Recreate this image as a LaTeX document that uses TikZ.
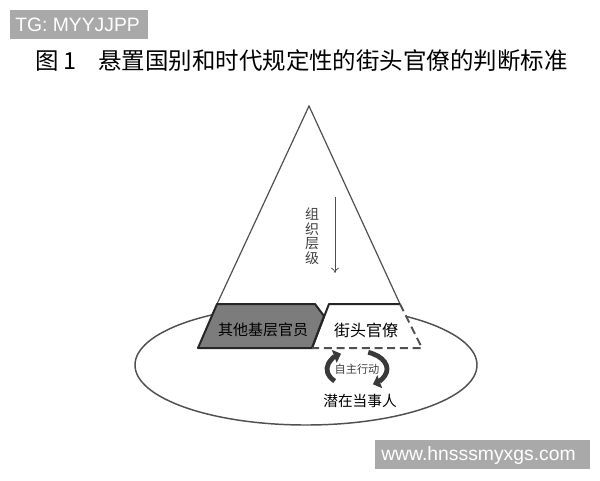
\documentclass[tikz,border=0pt]{standalone}
\usepackage{fontspec}
\setmainfont{Liberation Serif}
\newfontfamily\cjk{Noto Sans CJK SC}
\newfontfamily\wmfont{Liberation Sans}
\usetikzlibrary{arrows.meta}
\definecolor{wmgray}{HTML}{A9A9A9}
\definecolor{basegray}{HTML}{7C7C7C}
\definecolor{linegray}{HTML}{505050}
\tikzset{
  zh/.style={font=\cjk\fontsize{#1}{#1}\selectfont, inner sep=0pt},
  wm/.style={font=\wmfont\fontsize{14.5}{14.5}\selectfont, text=white, inner sep=0pt, anchor=west},
  cyc/.style={line width=3.6pt, draw=gray!45!black, -{Triangle[width=10pt,length=5.5pt]}},
}

\begin{document}
\begin{tikzpicture}[x=0.75pt,y=-0.75pt]
  \useasboundingbox (0,0) rectangle (600,480);
  % Filigranes
  \fill[wmgray] (10,10) rectangle (148,39);
  \node[wm] (tg) at (15,25) {TG: MYYJJPP};
  \fill[wmgray] (375,440) rectangle (590,469);
  \node[wm] (site) at (381,455) {www.hnsssmyxgs.com};
  % Titre
  \node[zh=17.6, anchor=west] (fignum) at (35,61) {图 1};
  \node[zh=17.6, anchor=west] (title) at (98,61) {悬置国别和时代规定性的街头官僚的判断标准};
  % Ellipse des potentiels usagers
  \draw[linegray, line width=1.1pt] (306,365) ellipse [x radius=171, y radius=60];
  % Pyramide
  \fill[white] (217,304) -- (400,304) -- (422,348) -- (198,348) -- cycle;
  \draw[linegray, line width=0.9pt] (217,304) -- (309,106) -- (400,304);
  % Autres agents de base
  \filldraw[fill=basegray, draw=black!85, line width=1.5pt, line join=round]
    (217,304) -- (315,304) -- (324,316) -- (312,348) -- (198,348) -- cycle;
  % Bureaucrates de rue
  \draw[black!85, line width=1.5pt, line join=round] (312,348) -- (329,304) -- (400,304);
  \draw[linegray, line width=1.5pt, dash pattern=on 6pt off 3.5pt] (400,304) -- (422,348) -- (312,348);
  \node[zh=11.25] (others) at (263,330) {其他基层官员};
  \node[zh=12] (street) at (366,330) {街头官僚};
  % Niveaux hierarchiques
  \node[zh=10.5, align=center, font=\cjk\fontsize{10.5}{10.9}\selectfont, text=black!75] (level) at (312,236) {组\\织\\层\\级};
  \coordinate (lvtop) at (335,197);
  \coordinate (lvbot) at (335,273);
  \draw[linegray, line width=0.6pt, -{To[length=4pt,width=6pt]}] (lvtop) -- (lvbot);
  % Action autonome
  \node[zh=8.4, text=black!75] (act) at (357,369) {自主行动};
  \node[zh=11] (party) at (360,401) {潜在当事人};
  \draw[cyc] ([shift={(138:30 and 18)}]act.center) arc[start angle=138, end angle=238, x radius=30, y radius=18];
  \draw[cyc] ([shift={(-68:30 and 18)}]act.center) arc[start angle=-68, end angle=58, x radius=30, y radius=18];
\end{tikzpicture}
\end{document}
